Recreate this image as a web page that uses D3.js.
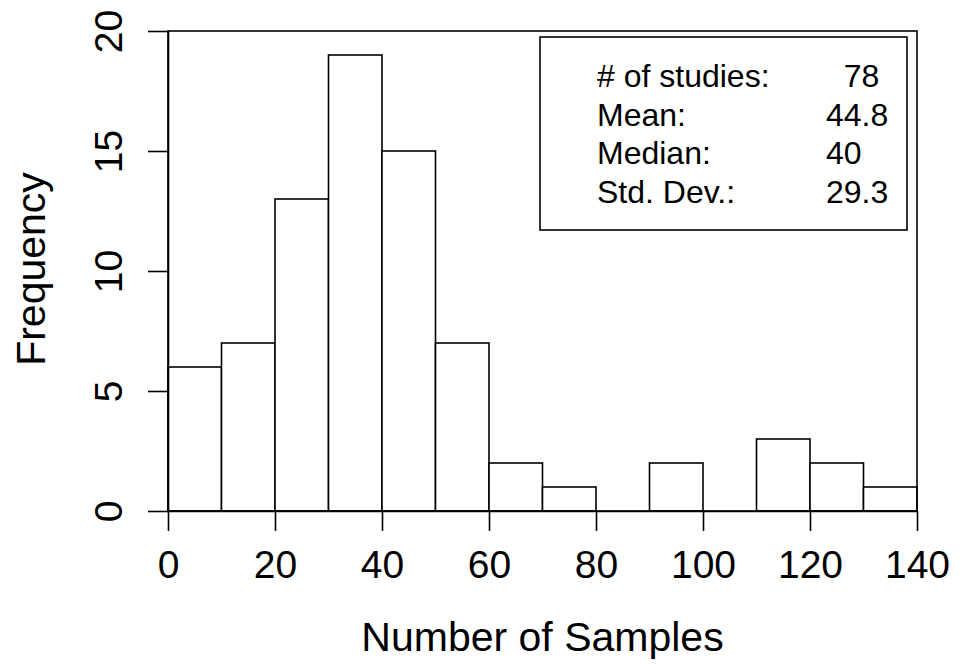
<!DOCTYPE html>
<html>
<head>
<meta charset="utf-8">
<script src="https://cdn.jsdelivr.net/npm/d3@7"></script>
<style>
  body { margin: 0; background: #fff; }
  svg text { font-family: "Liberation Sans", Arial, Helvetica, sans-serif; fill: #000; }
</style>
</head>
<body>
<svg id="chart" width="963" height="664"></svg>
<script>
// histogram bins (lower edges, width 10) and counts
var binStarts = [0, 10, 20, 30, 40, 50, 60, 70, 80, 90, 100, 110, 120, 130];
var binWidth = 10;
var counts = [6, 7, 13, 19, 15, 7, 2, 1, 0, 2, 0, 3, 2, 1];

var xTickVals = [0, 20, 40, 60, 80, 100, 120, 140];
var yTickVals = [0, 5, 10, 15, 20];

var statLabels = ["# of studies:", "Mean:", "Median:", "Std. Dev.:"];
var statValues = ["  78", "44.8", "40", "29.3"];

var LEFT = 168, RIGHT = 917, TOP = 31, BOTTOM = 511;
var LNE_W = 1.6;

var svg = d3.select("#chart");

var xScale = d3.scaleLinear().domain([0, 140]).range([LEFT, RIGHT]);
var yScale = d3.scaleLinear().domain([0, 20]).range([BOTTOM, TOP]);

// bars
svg.append("g")
    .selectAll("rect")
    .data(counts)
    .enter()
    .append("rect")
    .attr("x", function(d, i) { return xScale(binStarts[i]); })
    .attr("y", function(d) { return yScale(d); })
    .attr("width", function(d, i) { return xScale(binStarts[i] + binWidth) - xScale(binStarts[i]); })
    .attr("height", function(d) { return yScale(0) - yScale(d); })
    .style("fill", "white")
    .style("stroke", "black")
    .style("stroke-width", LNE_W);

// plot box
svg.append("rect")
    .attr("x", LEFT)
    .attr("y", TOP)
    .attr("width", RIGHT - LEFT)
    .attr("height", BOTTOM - TOP)
    .style("fill", "none")
    .style("stroke", "black")
    .style("stroke-width", LNE_W);

// axes
var xAxis = d3.axisBottom(xScale)
    .tickValues(xTickVals)
    .tickSize(20)
    .tickSizeOuter(0);

var yAxis = d3.axisLeft(yScale)
    .tickValues(yTickVals)
    .tickSize(20)
    .tickSizeOuter(0);

var gx = svg.append("g")
    .attr("transform", "translate(0," + BOTTOM + ")")
    .call(xAxis);

gx.selectAll("text")
    .attr("y", 67)
    .attr("dy", 0)
    .style("font-size", "39px");

var gy = svg.append("g")
    .attr("transform", "translate(" + LEFT + ",0)")
    .call(yAxis);

gy.selectAll("text")
    .attr("transform", "rotate(-90)")
    .attr("x", 0)
    .attr("y", -(LEFT - 122))
    .attr("dy", 0)
    .attr("text-anchor", "middle")
    .style("font-size", "39px");

svg.selectAll(".domain, .tick line")
    .style("stroke", "black")
    .style("stroke-width", LNE_W);

// axis titles
svg.append("text")
    .attr("x", (LEFT + RIGHT) / 2)
    .attr("y", 651)
    .attr("text-anchor", "middle")
    .style("font-size", "41px")
    .text("Number of Samples");

svg.append("text")
    .attr("transform", "rotate(-90)")
    .attr("x", -(TOP + BOTTOM) / 2 + 2)
    .attr("y", 45)
    .attr("text-anchor", "middle")
    .style("font-size", "41px")
    .text("Frequency");

// stats legend
var leg = svg.append("g");

leg.append("rect")
    .attr("x", 540)
    .attr("y", 37)
    .attr("width", 367)
    .attr("height", 193)
    .style("fill", "white")
    .style("stroke", "black")
    .style("stroke-width", LNE_W);

leg.selectAll(".statLbl")
    .data(statLabels)
    .enter()
    .append("text")
    .attr("class", "statLbl")
    .attr("x", 597)
    .attr("y", function(d, i) { return 87 + i * 38.7; })
    .style("font-size", "32px")
    .text(function(d) { return d; });

leg.selectAll(".statVal")
    .data(statValues)
    .enter()
    .append("text")
    .attr("class", "statVal")
    .attr("x", 826)
    .attr("y", function(d, i) { return 87 + i * 38.7; })
    .style("font-size", "32px")
    .style("white-space", "pre")
    .text(function(d) { return d; });
</script>
</body>
</html>
